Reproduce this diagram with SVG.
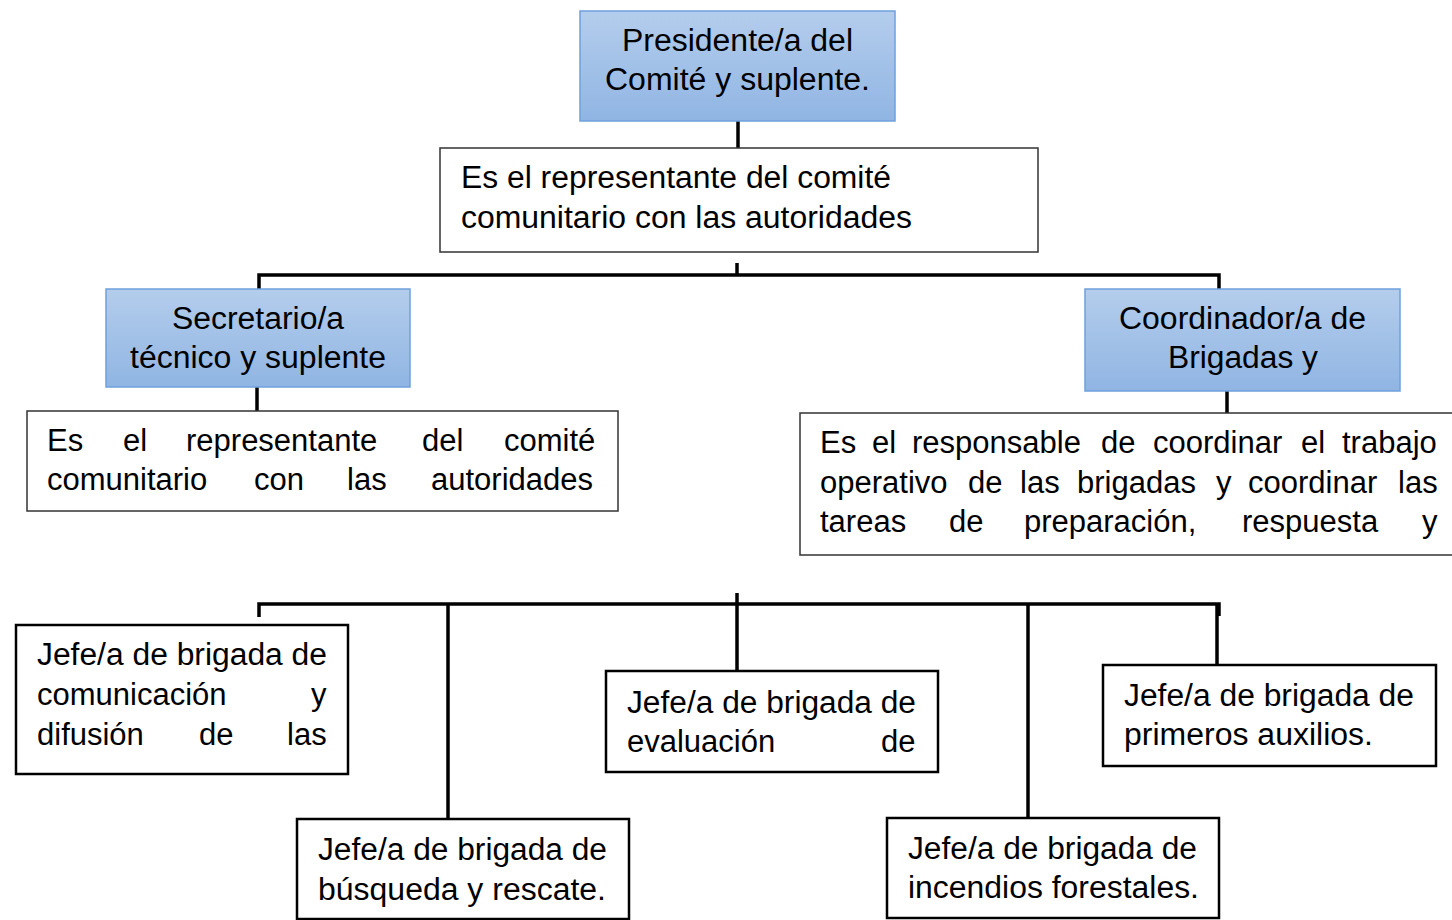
<svg xmlns="http://www.w3.org/2000/svg" width="1452" height="920" viewBox="0 0 1452 920">
<defs>
<linearGradient id="blue" x1="0" y1="0" x2="0" y2="1">
<stop offset="0" stop-color="#b4cdec"/>
<stop offset="1" stop-color="#90b5e3"/>
</linearGradient>
</defs>
<style>
text{font-family:"Liberation Sans",Arial,sans-serif;font-size:31px;fill:#000}
.c{text-anchor:middle}
.head{fill:url(#blue);stroke:#6fa0dc;stroke-width:1.5}
.desc{fill:#fff;stroke:#333;stroke-width:1.5}
.jefe{fill:#fff;stroke:#000;stroke-width:2.5}
.con{fill:none;stroke:#000;stroke-width:3.5;stroke-linejoin:miter}
</style>
<rect width="1452" height="920" fill="#fff"/>
<g id="connectors">
<path class="con" d="M738,121V148"/>
<path class="con" d="M737,263V276"/>
<path class="con" d="M259,289V275H1219V289"/>
<path class="con" d="M257,387V411"/>
<path class="con" d="M1227,391V413"/>
<path class="con" d="M737,593V604"/>
<path class="con" d="M259,617V604H1219V616"/>
<path class="con" d="M448,604V819"/>
<path class="con" d="M737,604V671"/>
<path class="con" d="M1028,604V818"/>
<path class="con" d="M1217,604V665"/>
</g>
<g id="presidente">
<rect class="head" x="580" y="11" width="315" height="110"/>
<text class="c" x="737.5" y="51" textLength="231" lengthAdjust="spacingAndGlyphs">Presidente/a del</text>
<text class="c" x="737.5" y="90" textLength="265" lengthAdjust="spacingAndGlyphs">Comité y suplente.</text>
</g>
<g id="presidente-desc">
<rect class="desc" x="440" y="148" width="598" height="104"/>
<text x="461" y="188" textLength="430" lengthAdjust="spacingAndGlyphs">Es el representante del comité</text>
<text x="461" y="228" textLength="451" lengthAdjust="spacingAndGlyphs">comunitario con las autoridades</text>
</g>
<g id="secretario">
<rect class="head" x="106" y="289" width="304" height="98"/>
<text class="c" x="258" y="329" textLength="172" lengthAdjust="spacingAndGlyphs">Secretario/a</text>
<text class="c" x="258" y="368" textLength="256" lengthAdjust="spacingAndGlyphs">técnico y suplente</text>
</g>
<g id="secretario-desc">
<rect class="desc" x="27" y="411" width="591" height="100"/>
<text y="451"><tspan x="47">Es</tspan><tspan x="123">el</tspan><tspan x="186">representante</tspan><tspan x="422">del</tspan><tspan x="504">comité</tspan></text>
<text y="490"><tspan x="47">comunitario</tspan><tspan x="254">con</tspan><tspan x="347">las</tspan><tspan x="431">autoridades</tspan></text>
</g>
<g id="coordinador">
<rect class="head" x="1085" y="289" width="315" height="102"/>
<text class="c" x="1242.5" y="329" textLength="247" lengthAdjust="spacingAndGlyphs">Coordinador/a de</text>
<text class="c" x="1243" y="368" textLength="150" lengthAdjust="spacingAndGlyphs">Brigadas y</text>
</g>
<g id="coordinador-desc">
<rect class="desc" x="800" y="413" width="662" height="142"/>
<text y="453"><tspan x="820">Es</tspan><tspan x="872">el</tspan><tspan x="912">responsable</tspan><tspan x="1101">de</tspan><tspan x="1153">coordinar</tspan><tspan x="1301">el</tspan><tspan x="1342">trabajo</tspan></text>
<text y="493"><tspan x="820">operativo</tspan><tspan x="968">de</tspan><tspan x="1020">las</tspan><tspan x="1077">brigadas</tspan><tspan x="1216">y</tspan><tspan x="1248">coordinar</tspan><tspan x="1398">las</tspan></text>
<text y="532"><tspan x="820">tareas</tspan><tspan x="949">de</tspan><tspan x="1024">preparación,</tspan><tspan x="1242">respuesta</tspan><tspan x="1422">y</tspan></text>
</g>
<g id="comunicacion">
<rect class="jefe" x="16" y="625" width="332" height="149"/>
<text x="37" y="665" textLength="290" lengthAdjust="spacingAndGlyphs">Jefe/a de brigada de</text>
<text y="705"><tspan x="37">comunicación</tspan><tspan x="311">y</tspan></text>
<text y="745"><tspan x="37">difusión</tspan><tspan x="199">de</tspan><tspan x="287">las</tspan></text>
</g>
<g id="evaluacion">
<rect class="jefe" x="606" y="671" width="332" height="101"/>
<text x="627" y="713" textLength="289" lengthAdjust="spacingAndGlyphs">Jefe/a de brigada de</text>
<text y="752"><tspan x="627">evaluación</tspan><tspan x="881">de</tspan></text>
</g>
<g id="primeros">
<rect class="jefe" x="1103" y="665" width="333" height="101"/>
<text x="1124" y="706" textLength="290" lengthAdjust="spacingAndGlyphs">Jefe/a de brigada de</text>
<text x="1124" y="745" textLength="249" lengthAdjust="spacingAndGlyphs">primeros auxilios.</text>
</g>
<g id="busqueda">
<rect class="jefe" x="297" y="819" width="332" height="100"/>
<text x="318" y="860" textLength="289" lengthAdjust="spacingAndGlyphs">Jefe/a de brigada de</text>
<text x="318" y="900" textLength="288" lengthAdjust="spacingAndGlyphs">búsqueda y rescate.</text>
</g>
<g id="incendios">
<rect class="jefe" x="887" y="818" width="332" height="100"/>
<text x="908" y="859" textLength="289" lengthAdjust="spacingAndGlyphs">Jefe/a de brigada de</text>
<text x="908" y="898" textLength="291" lengthAdjust="spacingAndGlyphs">incendios forestales.</text>
</g>
</svg>
